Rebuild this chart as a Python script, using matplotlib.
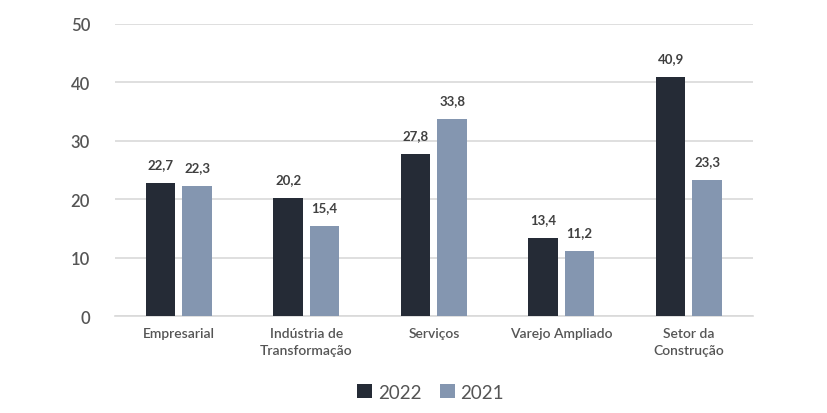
import numpy as np
import matplotlib.pyplot as plt

categories = ["Empresarial", "Indústria de\nTransformação", "Serviços", "Varejo Ampliado", "Setor da\nConstrução"]
values_2022 = [22.7, 20.2, 27.8, 13.4, 40.9]
values_2021 = [22.3, 15.4, 33.8, 11.2, 23.3]
series_names = ["2022", "2021"]

plt.rcParams['font.family'] = ['Lato', 'DejaVu Sans']

dark = "#252b36"
light = "#8496b0"
text_gray = "#555555"

fig = plt.figure(figsize=(8.28, 4.14), dpi=100)
ax = fig.add_axes([0.139, 0.234, 0.770, 0.706])

x = np.arange(len(categories))
w = 0.23
off = 0.143
b1 = ax.bar(x - off, values_2022, w, color=dark, label=series_names[0], zorder=3)
b2 = ax.bar(x + off, values_2021, w, color=light, label=series_names[1], zorder=3)

for bars, vals in [(b1, values_2022), (b2, values_2021)]:
    for r, v in zip(bars, vals):
        ax.text(r.get_x() + r.get_width() / 2, v + 2.2, f"{v:.1f}".replace(".", ","),
                ha="center", va="bottom", fontsize=9.5, fontweight="bold", color="#404040")

ax.set_xlim(-0.5, 4.5)
ax.set_ylim(0, 50)
ax.set_yticks([0, 10, 20, 30, 40, 50])
ax.yaxis.grid(True, color="#d9d9d9", linewidth=1.2, zorder=0)
ax.set_xticks(x)
ax.set_xticklabels(categories, fontsize=10, color=text_gray, linespacing=1.5, fontweight="semibold")
ax.tick_params(axis="y", labelsize=12, colors=text_gray, length=0, pad=18)
for t in ax.get_yticklabels():
    t.set_fontweight("semibold")
ax.tick_params(axis="x", length=0, pad=8)
for s in ["top", "right", "left"]:
    ax.spines[s].set_visible(False)
ax.spines["bottom"].set_color("#d9d9d9")
ax.spines["bottom"].set_linewidth(1.2)

leg = fig.legend(handles=[b1, b2], loc="center", bbox_to_anchor=(0.52, 0.05), ncol=2,
                 frameon=False, fontsize=13.5, handlelength=0.8, handleheight=0.8,
                 handletextpad=0.3, columnspacing=1.0)
for t in leg.get_texts():
    t.set_color(text_gray)

fig.savefig("out.png", dpi=100)
